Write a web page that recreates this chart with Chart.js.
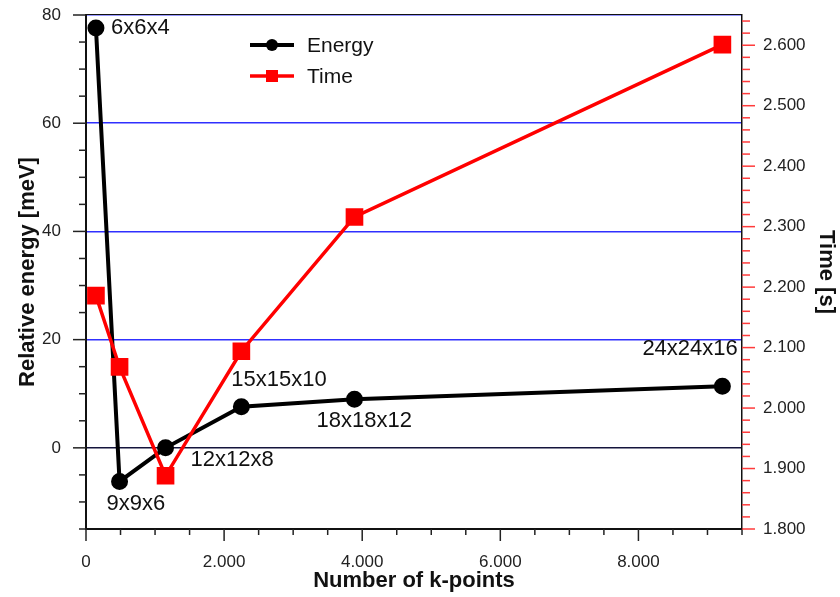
<!DOCTYPE html>
<html><head><meta charset="utf-8">
<script src="https://cdn.jsdelivr.net/npm/chart.js@4.4.1/dist/chart.umd.min.js"></script>
<style>html,body{margin:0;padding:0;background:#fff}#wrap{width:840px;height:597px}</style>
</head><body><div id="wrap"><canvas id="c" width="840" height="597"></canvas></div>
<script>
// ---- data ----
const meshLabels = ['6x6x4', '9x9x6', '12x12x8', '15x15x10', '18x18x12', '24x24x16'];
const kPoints    = [144, 486, 1152, 2250, 3888, 9216];
const relEnergy  = [77.6, -6.2, 0.0, 7.6, 9.0, 11.4];
const timeSec    = [2.186, 2.068, 1.888, 2.094, 2.316, 2.601];
const xTicks      = [0, 2000, 4000, 6000, 8000];
const energyTicks = [0, 20, 40, 60, 80];
const timeTicks   = [1.8, 1.9, 2.0, 2.1, 2.2, 2.3, 2.4, 2.5, 2.6];

// ---- styles (pixel offsets of mesh labels relative to points) ----
const labelOffsets = [[15, 0], [-13, 23], [25, 12], [-10, -27], [-38, 22], [-80, -37]];
const FONT = '"Liberation Sans", Arial, Helvetica, sans-serif';

const fmtThousands = v => v === 0 ? '0' : String(v).replace(/\B(?=(\d{3})+(?!\d))/g, '.');

const energyPts = kPoints.map((k, i) => ({x: k, y: relEnergy[i]}));
const timePts = kPoints.map((k, i) => ({x: k, y: timeSec[i]}));

const tickMarks = {
  id: 'tickMarks',
  afterDraw(chart) {
    const ctx = chart.ctx, a = chart.chartArea;
    ctx.save();
    ctx.strokeStyle = '#111'; ctx.lineWidth = 1;
    ctx.beginPath(); ctx.moveTo(a.left, a.top - 0.5); ctx.lineTo(a.right, a.top - 0.5); ctx.stroke();
    const run = (scale, min, max, step, isMajor, majLen, minLen, color, dir) => {
      ctx.strokeStyle = color; ctx.lineWidth = 1.5;
      const n = Math.round((max - min) / step);
      for (let i = 0; i <= n; i++) {
        const v = min + i * step;
        const len = isMajor(i) ? majLen : minLen;
        const p = scale.getPixelForValue(v);
        ctx.beginPath();
        if (dir === 'left') { ctx.moveTo(a.left - len, p); ctx.lineTo(a.left, p); }
        else if (dir === 'right') { ctx.moveTo(a.right, p); ctx.lineTo(a.right + len, p); }
        else { ctx.moveTo(p, a.bottom); ctx.lineTo(p, a.bottom + len); }
        ctx.stroke();
      }
    };
    const s = chart.scales;
    run(s.y, -15, 80, 5, i => (i - 3) % 4 === 0 && i >= 3, 13, 7, '#222', 'left');
    run(s.x, 0, 9500, 500, i => i % 4 === 0 && i <= 16, 12, 6, '#222', 'bottom');
    run(s.y2, 1.8, 2.64, 0.02, i => i % 5 === 0, 13, 8, '#ff3b3b', 'right');
    ctx.restore();
  },
  afterDatasetsDraw(chart) {
    const ctx = chart.ctx, sx = chart.scales.x, sy = chart.scales.y;
    ctx.save();
    ctx.font = '22px ' + FONT; ctx.fillStyle = '#111';
    ctx.textAlign = 'left'; ctx.textBaseline = 'middle';
    meshLabels.forEach((t, i) => {
      const px = sx.getPixelForValue(kPoints[i]), py = sy.getPixelForValue(relEnergy[i]);
      ctx.fillText(t, px + labelOffsets[i][0], py + labelOffsets[i][1]);
    });
    const items = [
      {ds: chart.data.datasets[0], y: 45},
      {ds: chart.data.datasets[1], y: 76}
    ];
    ctx.font = '21px ' + FONT;
    items.forEach(it => {
      const d = it.ds;
      ctx.strokeStyle = d.borderColor; ctx.lineWidth = d.borderWidth;
      ctx.beginPath(); ctx.moveTo(250, it.y); ctx.lineTo(294, it.y); ctx.stroke();
      ctx.fillStyle = d.pointBackgroundColor;
      if (d.pointStyle === 'circle') { ctx.beginPath(); ctx.arc(272, it.y, 6, 0, Math.PI * 2); ctx.fill(); }
      else { ctx.fillRect(272 - 6, it.y - 6, 12, 12); }
      ctx.fillStyle = '#111';
      ctx.fillText(d.label, 307, it.y + 1);
    });
    ctx.restore();
  }
};

new Chart(document.getElementById('c'), {
  type: 'line',
  data: {
    datasets: [
      {label: 'Energy', data: energyPts, yAxisID: 'y', borderColor: '#000', backgroundColor: '#000',
       pointBackgroundColor: '#000', pointBorderColor: '#000', borderWidth: 4, pointRadius: 6.5,
       pointStyle: 'circle', order: 1, clip: false, tension: 0},
      {label: 'Time', data: timePts, yAxisID: 'y2', borderColor: '#ff0000', backgroundColor: '#ff0000',
       pointBackgroundColor: '#ff0000', pointBorderColor: '#ff0000', borderWidth: 3.5, pointRadius: 10,
       pointStyle: 'rect', order: 0, clip: false, tension: 0}
    ]
  },
  options: {
    responsive: false, animation: false, devicePixelRatio: 1,
    layout: {autoPadding: false, padding: {top: 15, left: 0, right: 0, bottom: 0}},
    plugins: {legend: {display: false}, tooltip: {enabled: false}},
    scales: {
      x: {
        type: 'linear', position: 'bottom', min: 0, max: 9500,
        afterBuildTicks: sc => { sc.ticks = xTicks.map(v => ({value: v})); },
        afterFit: sc => { sc.height = 68; },
        ticks: {callback: v => fmtThousands(v), font: {family: FONT, size: 17}, color: '#222', padding: 11, maxRotation: 0},
        grid: {drawOnChartArea: false, tickLength: 12, tickColor: 'rgba(255,255,255,0)'},
        border: {color: '#111', width: 2},
        title: {display: true, text: 'Number of k-points', font: {family: FONT, size: 22, weight: 'bold'}, color: '#111', padding: {top: 0, bottom: 3}}
      },
      y: {
        type: 'linear', position: 'left', min: -15, max: 80,
        afterBuildTicks: sc => { sc.ticks = energyTicks.map(v => ({value: v})); },
        afterFit: sc => { sc.width = 86; },
        ticks: {font: {family: FONT, size: 17}, color: '#222', padding: 2},
        grid: {color: c => (c.tick && c.tick.value === 0) ? '#14143c' : '#3030ff', lineWidth: 1.5,
               tickLength: 23, tickColor: 'rgba(255,255,255,0)'},
        border: {color: '#111', width: 2},
        title: {display: true, text: 'Relative energy [meV]', font: {family: FONT, size: 22, weight: 'bold'}, color: '#111', padding: {top: 15, bottom: 0}}
      },
      y2: {
        type: 'linear', position: 'right', min: 1.8, max: 2.65,
        afterBuildTicks: sc => { sc.ticks = timeTicks.map(v => ({value: v})); },
        afterFit: sc => { sc.width = 98; },
        ticks: {callback: v => Number(v).toFixed(3), font: {family: FONT, size: 17}, color: '#222', padding: 2},
        grid: {drawOnChartArea: false, tickLength: 19, tickColor: 'rgba(255,255,255,0)'},
        border: {color: '#111', width: 1.5},
        title: {display: true, text: 'Time [s]', font: {family: FONT, size: 22, weight: 'bold'}, color: '#111', padding: {top: 1, bottom: 0}}
      }
    }
  },
  plugins: [tickMarks]
});
</script>
</body></html>
